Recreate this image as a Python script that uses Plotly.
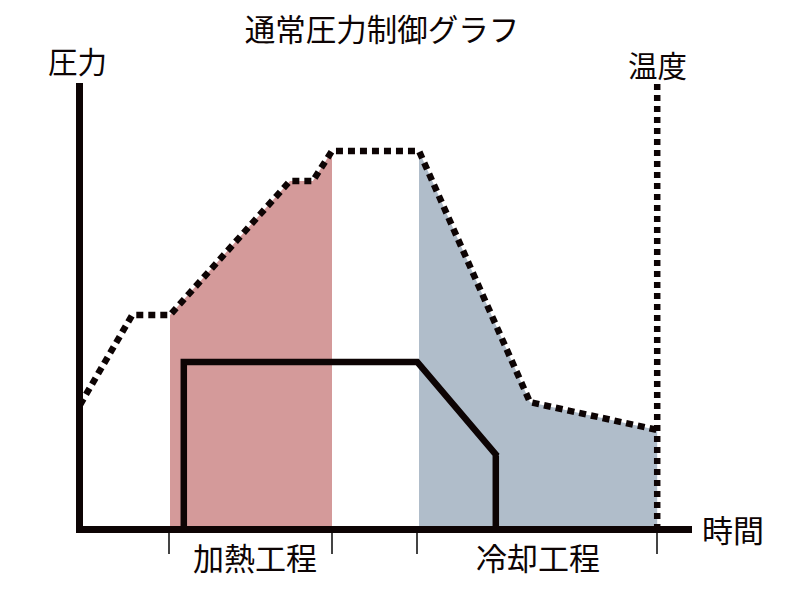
import plotly.graph_objects as go

# time axis 0..102, value axis 0..100 (schematic units)
temp_time = [0, 8.7, 15.0, 35.0, 38.8, 42.0, 56.5, 75.0, 96.2]
temp_value = [28.0, 48.1, 48.1, 78.1, 78.1, 84.8, 84.8, 28.6, 22.4]

press_time = [17.3, 17.3, 56.2, 69.5, 69.3, 69.3]
press_value = [0, 37.6, 37.6, 16.6, 16.6, 0]

heat_phase = [15.0, 42.0]
cool_phase = [56.5, 96.2]
phase_ticks = [14.8, 42.0, 56.2, 96.2]
phase_labels = ["加熱工程", "冷却工程"]

title_text = "通常圧力制御グラフ"
left_label = "圧力"
right_label = "温度"
x_label = "時間"

INK = "#0d0404"
FONT = "Noto Sans CJK JP"

# plot box in page pixels (axis lines sit just outside it)
BOX_L, BOX_R, BOX_T, BOX_B = 83, 692, 83, 526


def px(x):
    return (x - BOX_L) / (BOX_R - BOX_L)


def py(y):
    return (BOX_B - y) / (BOX_B - BOX_T)


def phase_slice(phase):
    # vertices of the temperature line inside a process phase
    pts = [(t, v) for t, v in zip(temp_time, temp_value) if phase[0] <= t <= phase[1]]
    return [p[0] for p in pts], [p[1] for p in pts]


fig = go.Figure()

# shaded process areas under the temperature line
for phase, color in [(heat_phase, "#d49a9a"), (cool_phase, "#b0bdca")]:
    xs, ys = phase_slice(phase)
    fig.add_trace(go.Scatter(x=xs, y=ys, mode="lines", fill="tozeroy",
                             fillcolor=color, line=dict(width=0),
                             hoverinfo="skip", showlegend=False))

# pressure (solid)
fig.add_trace(go.Scatter(x=press_time, y=press_value, mode="lines",
                         line=dict(color=INK, width=6.5),
                         showlegend=False))

# temperature (dotted)
fig.add_trace(go.Scatter(x=temp_time, y=temp_value, mode="lines",
                         line=dict(color=INK, width=6.5, dash="7px,5px"),
                         showlegend=False))

# dotted temperature axis on the right
fig.add_trace(go.Scatter(x=[cool_phase[1], cool_phase[1]], y=[0, 100],
                         mode="lines",
                         line=dict(color=INK, width=6.5, dash="6px,5px"),
                         showlegend=False))

fig.update_layout(
    width=800, height=605,
    margin=dict(l=BOX_L - 8, r=800 - (BOX_R - 8), t=BOX_T - 8, b=605 - (BOX_B - 8)),
    paper_bgcolor="white", plot_bgcolor="white",
    font=dict(family=FONT, color=INK, size=29.5),
    showlegend=False,
    title=dict(text=title_text, font=dict(size=30.5),
               x=374 / 800, xanchor="center", xref="container",
               y=1 - 22.5 / 605, yanchor="middle", yref="container"),
    xaxis=dict(range=[0.5, 0.5 + (BOX_R - BOX_L) / 6], showgrid=False, zeroline=False,
               showline=True, linecolor=INK, linewidth=6.5,
               tickmode="array", tickvals=phase_ticks, ticktext=[""] * 4,
               ticks="outside", ticklen=21, tickwidth=1.5, tickcolor="#444444"),
    yaxis=dict(range=[0.9, 0.9 + (BOX_B - BOX_T) / 4.47], showgrid=False, zeroline=False,
               showline=True, linecolor=INK, linewidth=6.5,
               showticklabels=False, ticks=""),
)

fig.add_annotation(text=left_label, xref="paper", yref="paper",
                   x=px(77), y=py(60),
                   showarrow=False, xanchor="center", yanchor="middle")
fig.add_annotation(text=right_label, x=cool_phase[1], xref="x", yref="paper",
                   y=py(64),
                   showarrow=False, xanchor="center", yanchor="middle")
fig.add_annotation(text=x_label, xref="paper", yref="paper",
                   x=px(733), y=py(528),
                   showarrow=False, font=dict(size=31),
                   xanchor="center", yanchor="middle")
for phase, label, shift in zip([heat_phase, cool_phase], phase_labels, [4, 0]):
    fig.add_annotation(text=label, x=(phase[0] + phase[1]) / 2, xref="x",
                       yref="paper", y=py(556), xshift=shift,
                       showarrow=False, font=dict(size=31),
                       xanchor="center", yanchor="middle")

fig.write_html("out.html")
